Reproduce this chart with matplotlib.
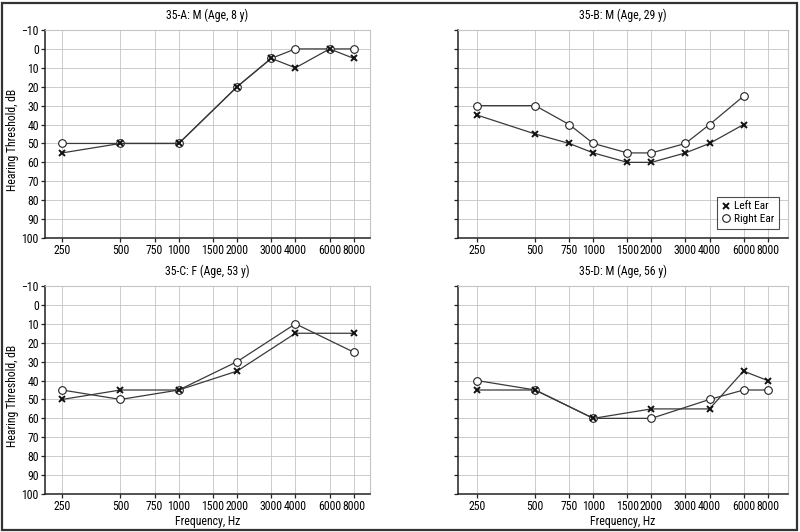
import matplotlib
matplotlib.use("Agg")
import matplotlib.pyplot as plt
from matplotlib.lines import Line2D
from matplotlib.patches import Rectangle

plt.rcParams["font.family"] = ["Roboto Condensed", "Liberation Sans", "DejaVu Sans"]

FREQ_TICKS = [250, 500, 750, 1000, 1500, 2000, 3000, 4000, 6000, 8000]
DB_TICKS = list(range(-10, 101, 10))

# 35-A
a_title = "35-A: M (Age, 8 y)"
a_freq = [250, 500, 1000, 2000, 3000, 4000, 6000, 8000]
a_right = [50, 50, 50, 20, 5, 0, 0, 0]
a_left = [55, 50, 50, 20, 5, 10, 0, 5]

# 35-B
b_title = "35-B: M (Age, 29 y)"
b_freq = [250, 500, 750, 1000, 1500, 2000, 3000, 4000, 6000]
b_right = [30, 30, 40, 50, 55, 55, 50, 40, 25]
b_left = [35, 45, 50, 55, 60, 60, 55, 50, 40]

# 35-C
c_title = "35-C: F (Age, 53 y)"
c_freq = [250, 500, 1000, 2000, 4000, 8000]
c_right = [45, 50, 45, 30, 10, 25]
c_left = [50, 45, 45, 35, 15, 15]

# 35-D
d_title = "35-D: M (Age, 56 y)"
d_freq = [250, 500, 1000, 2000, 4000, 6000, 8000]
d_right = [40, 45, 60, 60, 50, 45, 45]
d_left = [45, 45, 60, 55, 55, 35, 40]

LINE_COLOR = "#3a3a3a"
GRID_COLOR = "#c4c4c4"

W, H = 800, 532
fig = plt.figure(figsize=(W / 100, H / 100), dpi=100)


def px_axes(left, top, right, bottom):
    return fig.add_axes([left / W, 1 - bottom / H, (right - left) / W, (bottom - top) / H])


def draw_panel(ax, title, freq, right, left, xlim, ylabels, xlabel):
    ax.set_xscale("log", base=2)
    ax.set_xlim(*xlim)
    ax.set_ylim(100, -10)
    ax.set_xticks(FREQ_TICKS)
    ax.set_xticklabels([str(f) for f in FREQ_TICKS])
    ax.minorticks_off()
    ax.set_yticks(DB_TICKS)
    if ylabels:
        ax.set_yticklabels(["\u221210" if v < 0 else str(v) for v in DB_TICKS])
        ax.set_ylabel("Hearing Threshold, dB", fontsize=8.5)
        ax.yaxis.set_label_coords(-0.08, 0.47)
    else:
        ax.set_yticklabels([])
    if xlabel:
        ax.set_xlabel("Frequency, Hz", fontsize=8.5)
        ax.xaxis.set_label_coords(0.5, -0.1)
    ax.tick_params(axis="both", labelsize=8.5, length=3, width=0.9, pad=1.5, color="#222222")
    ax.grid(True, color=GRID_COLOR, linewidth=0.6)
    ax.set_axisbelow(True)
    for side in ("top", "right"):
        ax.spines[side].set_color(GRID_COLOR)
        ax.spines[side].set_linewidth(0.8)
    for side in ("left", "bottom"):
        ax.spines[side].set_color("#222222")
        ax.spines[side].set_linewidth(1.1)
    ax.set_title(title, fontsize=8.5, pad=8)

    ax.plot(freq, right, color=LINE_COLOR, linewidth=0.9, marker="o", markersize=5.5,
            markerfacecolor="white", markeredgecolor="#222222", markeredgewidth=0.8, zorder=3)
    ax.plot(freq, left, color=LINE_COLOR, linewidth=0.9, marker="x", markersize=4.5,
            markeredgecolor="#111111", markeredgewidth=1.4, zorder=4)


ax_a = px_axes(45, 30, 370, 238)
ax_b = px_axes(458, 30, 788, 238)
ax_c = px_axes(45, 286, 370, 494)
ax_d = px_axes(458, 286, 788, 494)

draw_panel(ax_a, a_title, a_freq, a_right, a_left, (204, 9700), True, False)
draw_panel(ax_b, b_title, b_freq, b_right, b_left, (199, 10200), False, False)
draw_panel(ax_c, c_title, c_freq, c_right, c_left, (204, 9700), True, True)
draw_panel(ax_d, d_title, d_freq, d_right, d_left, (199, 10200), False, True)

handles = [
    Line2D([], [], linestyle="none", marker="x", markersize=4.5, markeredgecolor="#111111",
           markeredgewidth=1.4, label="Left Ear"),
    Line2D([], [], linestyle="none", marker="o", markersize=5.5, markerfacecolor="white",
           markeredgecolor="#222222", markeredgewidth=0.8, label="Right Ear"),
]
leg = ax_b.legend(handles=handles, loc="lower right", fontsize=8.2, frameon=True, fancybox=False,
                  handlelength=0.7, handletextpad=0.4, borderpad=0.4, labelspacing=0.25,
                  borderaxespad=0.8)
leg.get_frame().set_edgecolor("#222222")
leg.get_frame().set_linewidth(0.8)

fig.patches.append(Rectangle((2 / W, 2 / H), (W - 5) / W, (H - 5) / H, transform=fig.transFigure,
                             fill=False, edgecolor="#333333", linewidth=1.6))

fig.savefig("out.png", dpi=100)
